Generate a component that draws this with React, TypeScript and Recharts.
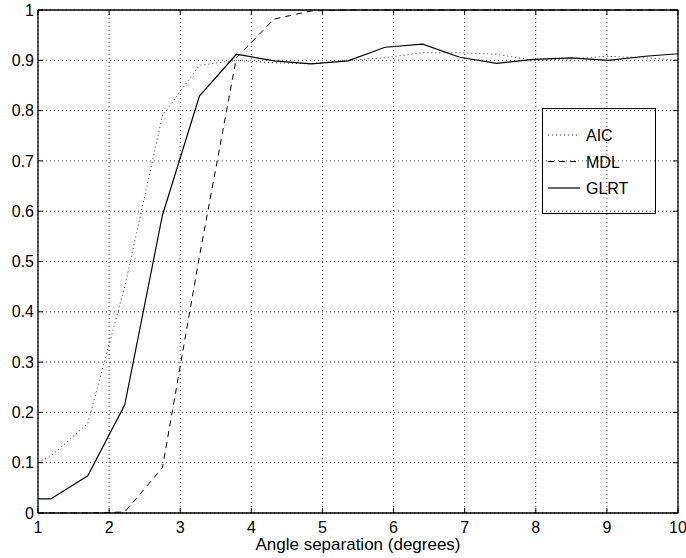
import React from 'react';
import { LineChart, Line, XAxis, YAxis, CartesianGrid, Legend, ReferenceLine } from 'recharts';

const angles = [1, 1.18, 1.7, 2.22, 2.75, 3.27, 3.79, 4.32, 4.84, 5.36, 5.88, 6.41, 6.93, 7.45, 7.97, 8.5, 9.02, 9.54, 10];
const aic = [0.1, 0.113, 0.178, 0.45, 0.79, 0.89, 0.9, 0.895, 0.893, 0.9, 0.905, 0.915, 0.915, 0.912, 0.9, 0.903, 0.908, 0.905, 0.9];
const mdl = [0, 0, 0, 0.002, 0.09, 0.51, 0.905, 0.982, 0.998, 1, 1, 1, 1, 1, 1, 1, 1, 1, 1];
const glrt = [0.028, 0.028, 0.074, 0.215, 0.592, 0.829, 0.912, 0.899, 0.893, 0.899, 0.926, 0.932, 0.906, 0.894, 0.902, 0.905, 0.9, 0.908, 0.913];

const xTicks = [1, 2, 3, 4, 5, 6, 7, 8, 9, 10];
const yTicks = [0, 0.1, 0.2, 0.3, 0.4, 0.5, 0.6, 0.7, 0.8, 0.9, 1];

const series = [
  { key: 'aic', name: 'AIC', dash: '1 3', width: 1, color: '#333' },
  { key: 'mdl', name: 'MDL', dash: '6 5', width: 1, color: '#000' },
  { key: 'glrt', name: 'GLRT', dash: undefined, width: 1.2, color: '#000' },
];

const data = angles.map((a, i) => ({ angle: a, aic: aic[i], mdl: mdl[i], glrt: glrt[i] }));

const font = '"Liberation Sans", Arial, Helvetica, sans-serif';
const tickStyle = { fill: '#000', fontSize: 16, fontFamily: font };
const axisLine = { stroke: '#000', strokeWidth: 1.3 };

// inward tick length on the top / right edges, in data units (about 5px)
const TICK_Y = 0.01;
const TICK_X = 0.07;

function LegendBox() {
  return (
    <div
      style={{
        width: 114,
        height: 106,
        boxSizing: 'border-box',
        border: '1.5px solid #000',
        fontFamily: font,
      }}
    >
      <svg width={111} height={103} style={{ display: 'block' }}>
        {series.map((s, i) => {
          const y = 26 + i * 26.5;
          return (
            <g key={s.key}>
              <line x1={5} x2={37} y1={y} y2={y} stroke={s.color} strokeWidth={s.width} strokeDasharray={s.dash} />
              <text x={43} y={y + 6} fill="#000" fontSize={16} fontFamily={font}>
                {s.name}
              </text>
            </g>
          );
        })}
      </svg>
    </div>
  );
}

export default function App() {
  return (
    <div style={{ width: 686, height: 558 }}>
      <style>{'body{margin:0}'}</style>
      <LineChart width={686} height={558} data={data} margin={{ top: 10, right: 8, left: 0, bottom: 0 }}>
        <CartesianGrid xAxisId="bottom" yAxisId="left" stroke="#444" strokeDasharray="1 3" />
        <XAxis
          xAxisId="bottom"
          dataKey="angle"
          type="number"
          domain={[1, 10]}
          ticks={xTicks}
          height={45}
          axisLine={axisLine}
          tickLine={{ stroke: '#000' }}
          tickSize={-5}
          tickMargin={14}
          tick={tickStyle}
          label={{ value: 'Angle separation (degrees)', position: 'insideBottom', offset: 8, fill: '#000', fontSize: 17, fontFamily: font }}
        />
        <YAxis
          yAxisId="left"
          type="number"
          domain={[0, 1]}
          ticks={yTicks}
          width={38}
          axisLine={axisLine}
          tickLine={{ stroke: '#000' }}
          tickSize={-5}
          tickMargin={9}
          tick={tickStyle}
        />
        {series.map((s) => (
          <Line
            key={s.key}
            xAxisId="bottom"
            yAxisId="left"
            type="linear"
            dataKey={s.key}
            name={s.name}
            stroke={s.color}
            strokeWidth={s.width}
            strokeDasharray={s.dash}
            dot={false}
            activeDot={false}
            isAnimationActive={false}
          />
        ))}
        {/* box: top and right edges with inward ticks */}
        <ReferenceLine xAxisId="bottom" yAxisId="left" y={1} stroke="#000" strokeWidth={1.3} />
        <ReferenceLine xAxisId="bottom" yAxisId="left" x={10} stroke="#000" strokeWidth={1.3} />
        {xTicks.map((t) => (
          <ReferenceLine
            key={'tx' + t}
            xAxisId="bottom"
            yAxisId="left"
            segment={[{ x: t, y: 1 }, { x: t, y: 1 - TICK_Y }]}
            stroke="#000"
          />
        ))}
        {yTicks.map((t) => (
          <ReferenceLine
            key={'ty' + t}
            xAxisId="bottom"
            yAxisId="left"
            segment={[{ x: 10, y: t }, { x: 10 - TICK_X, y: t }]}
            stroke="#000"
          />
        ))}
        <Legend
          layout="vertical"
          align="center"
          verticalAlign="middle"
          content={() => <LegendBox />}
          wrapperStyle={{ left: 542, top: 108, width: 114 }}
        />
      </LineChart>
    </div>
  );
}
